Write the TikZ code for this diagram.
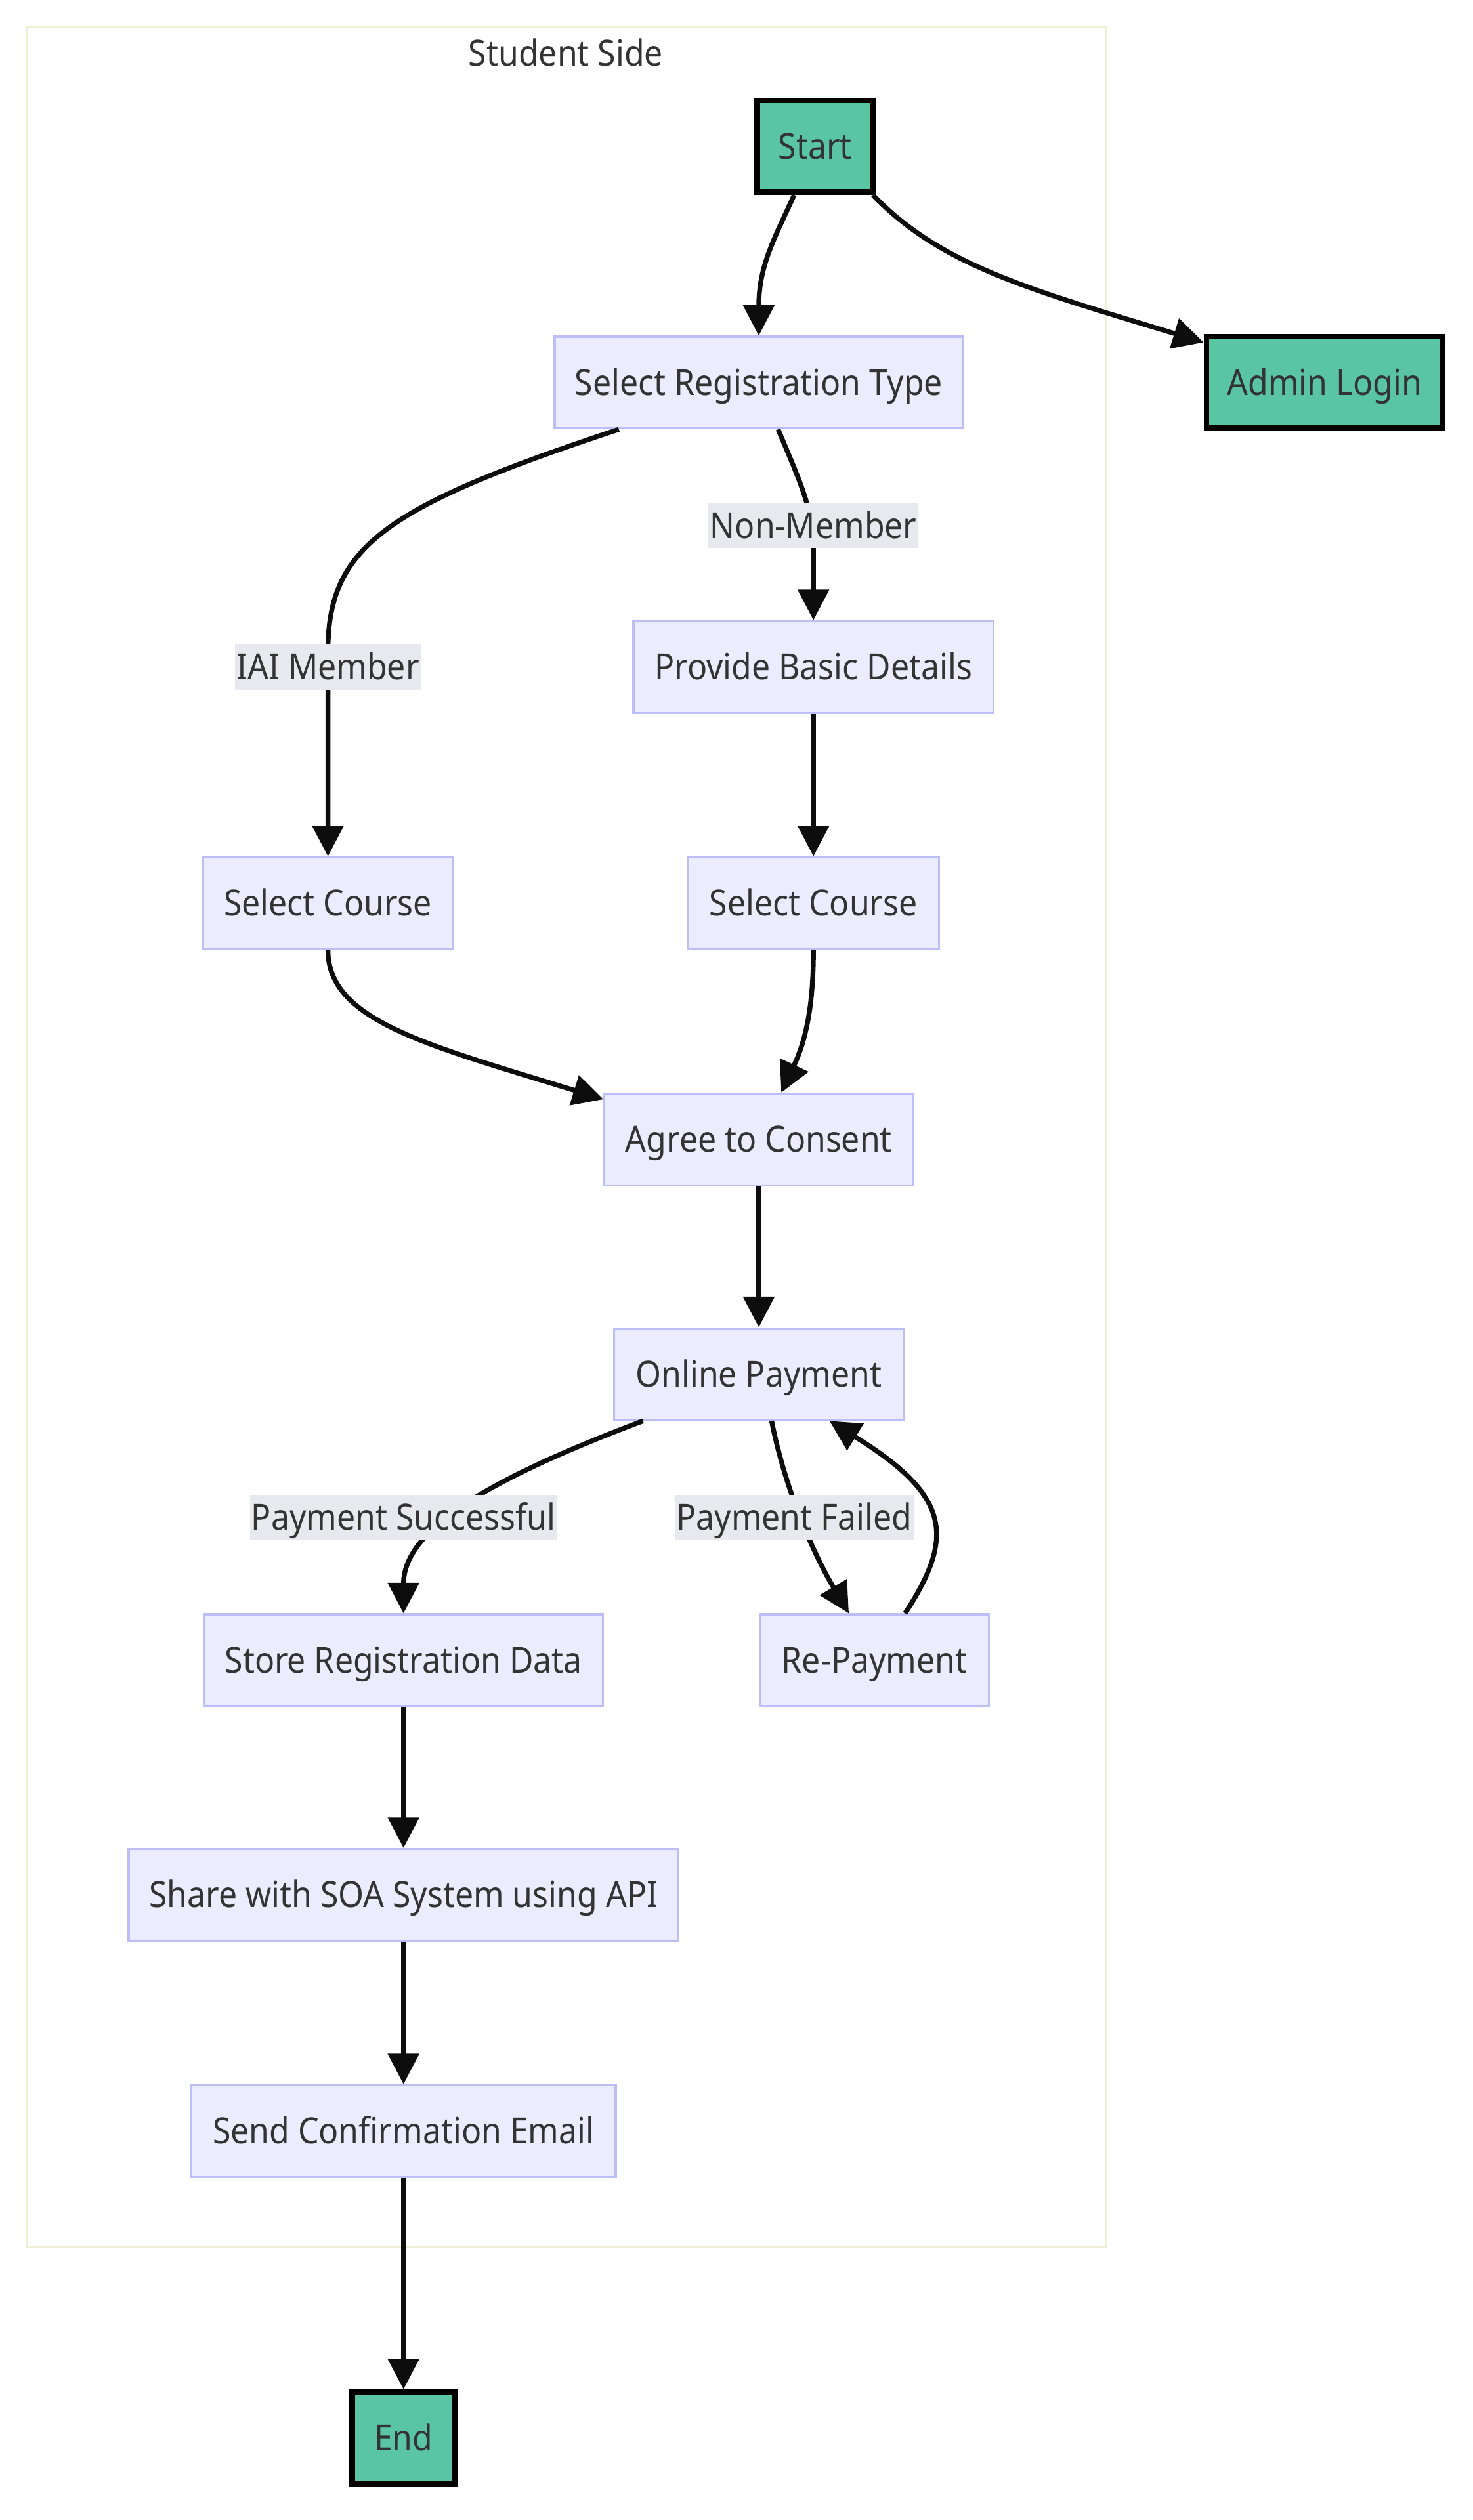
\documentclass[tikz,border=0pt]{standalone}
\usepackage{fontspec}
\setmainfont{Noto Sans}[FakeStretch=0.91]
\usetikzlibrary{arrows.meta}
\definecolor{nodeFill}{HTML}{ECECFF}
\definecolor{nodeStroke}{HTML}{BDBDF7}
\definecolor{termFill}{HTML}{5AC5A5}
\definecolor{textCol}{HTML}{333333}
\definecolor{labelBg}{HTML}{E8E8EF}
\definecolor{groupStroke}{HTML}{EFEFD6}
\definecolor{edgeCol}{HTML}{0D0D0D}
\tikzset{
  txt/.style={text=textCol, font=\fontsize{22.4}{26}\selectfont, text height=16pt, text depth=0pt},
  base/.style={txt, inner sep=0pt, minimum height=57pt},
  proc/.style={base, draw=nodeStroke, fill=nodeFill, line width=1.3pt},
  term/.style={base, draw=black, fill=termFill, line width=3.6pt},
  elabel/.style={txt, fill=labelBg, inner xsep=1pt, inner ysep=0pt, minimum height=28pt},
  edge/.style={draw=edgeCol, line width=3pt, -{Triangle[length=19pt,width=19pt]}},
}
\begin{document}
\begin{tikzpicture}[x=1pt, y=-1pt]
\useasboundingbox (0,0) rectangle (916,1568);
% cluster frame and its title
\draw[groupStroke, line width=1.3pt] (17,17) rectangle (688,1398);
\node[txt, inner sep=0pt] (grouptitle) at (352,33) {Student Side};

% nodes
\node[term, minimum width=72pt] (start) at (507,91) {Start};
\node[term, minimum width=147pt] (admin) at (824,238) {Admin Login};
\node[proc, minimum width=254pt] (srt) at (472,238) {Select Registration Type};
\node[proc, minimum width=224pt] (prov) at (506,415) {Provide Basic Details};
\node[proc, minimum width=155pt] (sc1) at (204,562) {Select Course};
\node[proc, minimum width=156pt] (sc2) at (506,562) {Select Course};
\node[proc, minimum width=192pt] (agree) at (472,709) {Agree to Consent};
\node[proc, minimum width=180pt] (online) at (472,855) {Online Payment};
\node[proc, minimum width=248pt] (store) at (251,1033) {Store Registration Data};
\node[proc, minimum width=142pt] (repay) at (544,1033) {Re-Payment};
\node[proc, minimum width=342pt] (share) at (251,1179) {Share with SOA System using API};
\node[proc, minimum width=264pt] (email) at (251,1326) {Send Confirmation Email};
\node[term, minimum width=64pt] (finish) at (251,1517) {End};

% connectors
\draw[edge] ([xshift=-13pt]start.south) .. controls (482,148) and (472,165) .. (srt.north);
\draw[edge] ([xshift=36pt]start.south) .. controls (585,165) and (640,180) .. ([yshift=25pt]admin.west);
\draw[edge] ([xshift=-87pt]srt.south) .. controls (240,315) and (204,340) .. (204,405) -- (sc1.north);
\draw[edge] ([xshift=12pt]srt.south) .. controls (500,305) and (506,318) .. (506,345) -- (prov.north);
\draw[edge] (prov.south) -- (sc2.north);
\draw[edge] (sc1.south) .. controls (204,635) and (265,650) .. ([yshift=25pt]agree.west);
\draw[edge] (sc2.south) .. controls (506,630) and (500,650) .. ([xshift=14pt]agree.north);
\draw[edge] (agree.south) -- (online.north);
\draw[edge] ([xshift=-72pt]online.south) .. controls (310,918) and (251,950) .. (store.north);
\draw[edge] ([xshift=8pt]online.south) .. controls (488,925) and (505,965) .. ([xshift=-16pt]repay.north);
\draw[edge] ([xshift=19pt]repay.north) .. controls (595,955) and (590,930) .. ([xshift=44pt]online.south);
\draw[edge] (store.south) -- (share.north);
\draw[edge] (share.south) -- (email.north);
\draw[edge] (email.south) -- (finish.north);

% edge labels
\node[elabel] (lblmember) at (204,415) {IAI Member};
\node[elabel] (lblnon) at (506,327) {Non-Member};
\node[elabel] (lblok) at (251,944) {Payment Successful};
\node[elabel] (lblfail) at (494,944) {Payment Failed};
\end{tikzpicture}
\end{document}
